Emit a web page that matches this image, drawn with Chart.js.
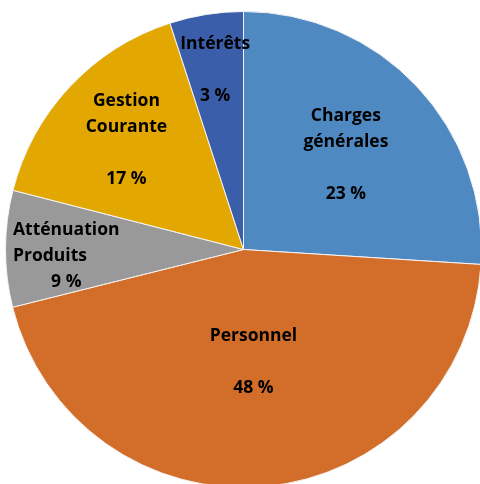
<!DOCTYPE html>
<html>
<head>
<meta charset="utf-8">
<script src="https://cdn.jsdelivr.net/npm/chart.js@4.4.1/dist/chart.umd.min.js"></script>
<style>
  html,body{margin:0;padding:0;background:#fff;overflow:hidden;}
  #wrap{position:absolute;left:5px;top:11px;width:477px;height:477px;}
</style>
</head>
<body>
<div id="wrap"><canvas id="pie"></canvas></div>
<script>
// slice sizes (clockwise from 12 o'clock)
const categories = ['Charges générales','Personnel','Atténuation Produits','Gestion Courante','Intérêts'];
const sliceValues = [26, 45.1, 7.9, 16, 5];
// label text as printed on the chart
const labelLines = [
  ['Charges','générales','','23 %'],
  ['Personnel','','48 %'],
  ['Atténuation','Produits','9 %'],
  ['Gestion','Courante','','17 %'],
  ['Intérêts','','3 %']
];
const sliceColors = ['#4f89c2','#d36e2a','#999999','#e2a700','#3b5eaa'];

// label placement: fraction of radius along the slice mid-angle, small nudges, per-line alignment
const labelRadius = [0.59, 0.46, 0.77, 0.675, 0.76];
const labelNudge = [[0,2],[0,3],[6,7],[0,0],[0,-1]];
const labelAlign = ['center','center',['left','left','center'],'center','center'];

const sliceLabels = {
  id:'sliceLabels',
  afterDatasetsDraw(chart){
    const ctx = chart.ctx;
    const arcs = chart.getDatasetMeta(0).data;
    ctx.save();
    ctx.font = 'bold 17.5px "Open Sans", sans-serif';
    ctx.fillStyle = '#000';
    ctx.textBaseline = 'middle';
    const lh = 26;
    arcs.forEach((arc,i)=>{
      const p = arc.getProps(['x','y','startAngle','endAngle','outerRadius'],true);
      const mid = (p.startAngle+p.endAngle)/2;
      const r = p.outerRadius*labelRadius[i];
      const cx = p.x + Math.cos(mid)*r + labelNudge[i][0];
      const cy = p.y + Math.sin(mid)*r + labelNudge[i][1];
      const lines = labelLines[i];
      const top = cy - (lines.length-1)*lh/2;
      const w = Math.max(...lines.map(t=>ctx.measureText(t).width));
      lines.forEach((t,k)=>{
        const a = Array.isArray(labelAlign[i]) ? labelAlign[i][k] : labelAlign[i];
        ctx.textAlign = a;
        ctx.fillText(t, a==='left' ? cx-w/2 : cx, top+k*lh);
      });
    });
    ctx.restore();
  }
};

new Chart(document.getElementById('pie'),{
  type:'pie',
  data:{
    labels:categories,
    datasets:[{
      data:sliceValues,
      backgroundColor:sliceColors,
      borderColor:'#f4f4f4',
      borderWidth:1
    }]
  },
  options:{
    responsive:true,
    maintainAspectRatio:false,
    animation:false,
    layout:{padding:0},
    plugins:{legend:{display:false},tooltip:{enabled:false}}
  },
  plugins:[sliceLabels]
});
</script>
</body>
</html>
